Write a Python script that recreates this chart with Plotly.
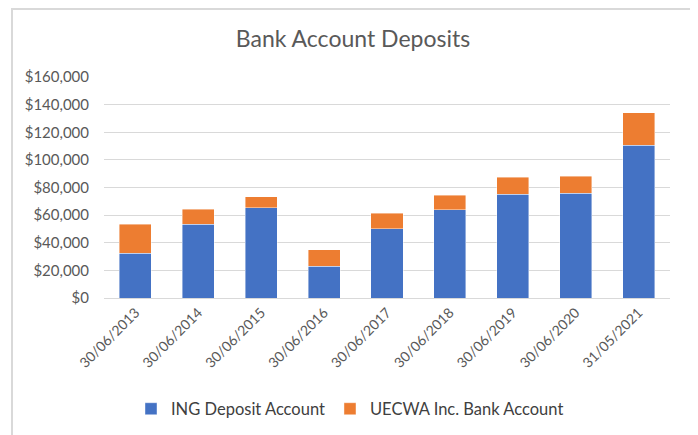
import plotly.graph_objects as go

dates = ["30/06/2013", "30/06/2014", "30/06/2015", "30/06/2016", "30/06/2017",
         "30/06/2018", "30/06/2019", "30/06/2020", "31/05/2021"]
ing = [32500, 53500, 65500, 23000, 50000, 63800, 75100, 75800, 110700]
uecwa = [21000, 10900, 7700, 11800, 11300, 10600, 12300, 12300, 23500]
yticks = [0, 20000, 40000, 60000, 80000, 100000, 120000, 140000, 160000]
ytick_labels = ["$0", "$20,000", "$40,000", "$60,000", "$80,000", "$100,000",
                "$120,000", "$140,000", "$160,000"]

# page is offset by the default 8px body margin
OFF = 8
W, H = 698 - OFF, 435 - OFF
L, R, T, B = 104 - OFF, 28, 77 - OFF, H - (298 - OFF)
pw, ph = W - L - R, H - T - B

def px(x):
    return (x - OFF - L) / pw

def py(y):
    return (H - B - (y - OFF)) / ph

font = "Lato, 'Open Sans', sans-serif"
grey = "#595959"

fig = go.Figure()
fig.add_trace(go.Bar(x=dates, y=ing, name="ING Deposit Account",
                     marker=dict(color="#4472C4", line=dict(color="rgba(255,255,255,0.6)", width=0.7))))
fig.add_trace(go.Bar(x=dates, y=uecwa, name="UECWA Inc. Bank Account",
                     marker=dict(color="#ED7D31", line=dict(color="rgba(255,255,255,0.6)", width=0.7))))

fig.update_layout(
    width=W, height=H, barmode="stack", bargap=0.49,
    margin=dict(l=L, r=R, t=T, b=B, autoexpand=False),
    paper_bgcolor="white", plot_bgcolor="white",
    font=dict(family=font, color=grey, size=14),
    title=dict(text="Bank Account Deposits", xref="container", x=(353 - OFF) / W, xanchor="center",
               yref="container", y=1 - (39 - OFF) / H, yanchor="middle",
               font=dict(size=23, color=grey, family=font)),
    legend=dict(orientation="h", x=px(350), xanchor="center", y=py(409), yanchor="middle",
                font=dict(size=16.5, color="#404040", family=font), itemwidth=30,
                traceorder="normal"),
    xaxis=dict(tickangle=-45, showline=True, linecolor="#d9d9d9", linewidth=1,
               tickfont=dict(size=14, color=grey), ticks=""),
    yaxis=dict(range=[0, 160000], tickvals=yticks, ticktext=ytick_labels,
               gridcolor="#d9d9d9", gridwidth=1, zeroline=False, showline=False,
               tickfont=dict(size=15, color=grey), ticks="", ticklabelstandoff=14),
    shapes=[dict(type="rect", xref="paper", yref="paper",
                 x0=px(12), x1=px(691), y0=py(440), y1=py(9),
                 line=dict(color="#d9d9d9", width=2), layer="below")],
)

fig.write_html("out.html")
